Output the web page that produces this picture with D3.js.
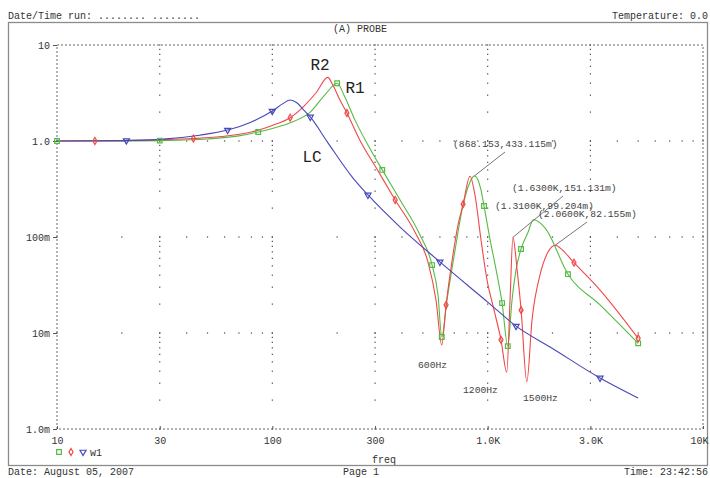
<!DOCTYPE html>
<html>
<head>
<meta charset="utf-8">
<script src="https://cdn.jsdelivr.net/npm/d3@7"></script>
<style>
  body { margin: 0; background: #fff; }
  text { font-family: "Liberation Mono", monospace; }
</style>
</head>
<body>
<svg id="chart" width="710" height="478"></svg>
<script>
// axis ticks
var xTicks = [10, 30, 100, 300, 1000, 3000, 10000];
var xTickLabels = ["10", "30", "100", "300", "1.0K", "3.0K", "10K"];
var yTicks = [10, 1, 0.1, 0.01, 0.001];
var yTickLabels = ["10", "1.0", "100m", "10m", "1.0m"];

// traces [freq, |V|]
var r1Data = [[10, 1.0], [20, 1.0], [30, 1.01], [50, 1.05], [70, 1.13], [86, 1.24], [100, 1.35], [121, 1.55],
  [150, 2.0], [175, 3.0], [200, 4.0], [215, 3.02], [242, 1.65], [278, 0.91], [324, 0.5], [392, 0.243],
  [485, 0.105], [552, 0.051], [588, 0.0249], [612, 0.0091], [647, 0.0218], [706, 0.0735], [760, 0.19],
  [828, 0.374], [868, 0.433], [931, 0.31], [962, 0.21], [1026, 0.0937], [1094, 0.0457], [1167, 0.0205],
  [1240, 0.0073], [1297, 0.0218], [1355, 0.0457], [1429, 0.075], [1540, 0.112], [1630, 0.151],
  [1849, 0.124], [2360, 0.041], [3325, 0.0196], [5000, 0.0078]];
var r2Data = [[10, 1.0], [20, 1.01], [30, 1.03], [43, 1.06], [60, 1.12], [80, 1.24], [100, 1.45], [121, 1.75],
  [140, 2.3], [160, 3.2], [181, 4.6], [191, 3.83], [206, 2.67], [222, 1.96], [255, 1.02], [306, 0.51],
  [372, 0.243], [460, 0.112], [528, 0.055], [576, 0.0218], [612, 0.0075], [641, 0.0196], [684, 0.0575],
  [728, 0.133], [769, 0.22], [828, 0.43], [873, 0.274], [931, 0.0937], [993, 0.0357], [1071, 0.0173],
  [1153, 0.0085], [1227, 0.0039], [1270, 0.0218], [1310, 0.0992], [1370, 0.0457], [1430, 0.0173],
  [1520, 0.0031], [1607, 0.0137], [1750, 0.0402], [1906, 0.0696], [2060, 0.082], [2218, 0.0735],
  [2518, 0.054], [3325, 0.028], [5000, 0.0088]];
var lcData = [[10, 1.0], [20, 1.01], [30, 1.04], [46, 1.15], [62, 1.3], [80, 1.58], [100, 2.05], [112, 2.45],
  [121, 2.67], [130, 2.5], [140, 2.1], [150, 1.78], [180, 0.98], [237, 0.41], [278, 0.274], [392, 0.127],
  [600, 0.055], [1000, 0.021], [1355, 0.0118], [2000, 0.0069], [3325, 0.0034], [5000, 0.0021]];

// trace markers
var r1Markers = [[10, 1.0], [30, 1.01], [86, 1.24], [200, 4.0], [324, 0.5], [552, 0.051], [612, 0.0091],
  [962, 0.21], [1167, 0.0205], [1240, 0.0073], [1429, 0.075], [2360, 0.041], [5000, 0.0078]];
var r2Markers = [[15, 1.0], [43, 1.06], [121, 1.75], [222, 1.96], [372, 0.243], [641, 0.0196], [769, 0.22],
  [1153, 0.0085], [1430, 0.0173], [2518, 0.054], [5000, 0.0088]];
var lcMarkers = [[21, 1.01], [62, 1.3], [100, 2.05], [150, 1.78], [278, 0.274], [600, 0.055], [1355, 0.0118],
  [3325, 0.0034]];

// cursor readouts
var readouts = [
  { f: 868.153, v: 0.433115, text: "(868.153,433.115m)" },
  { f: 1630, v: 0.151131, text: "(1.6300K,151.131m)" },
  { f: 1310, v: 0.099204, text: "(1.3100K,99.204m)" },
  { f: 2060, v: 0.082155, text: "(2.0600K,82.155m)" }
];
var notchLabels = ["600Hz", "1200Hz", "1500Hz"];
var traceNames = ["R2", "R1", "LC"];

var svg = d3.select("#chart");

const xScale = d3.scaleLog().domain([10, 10000]).range([57, 703]);
const yScale = d3.scaleLog().domain([0.001, 10]).range([429, 45]);

const green = "#55bb44";
const red = "#f04848";
const blue = "#4848b8";
const gridColor = "#444";

// outer page frame
svg.append("rect")
  .attr("x", 8.5).attr("y", 22.5)
  .attr("width", 699).attr("height", 443)
  .attr("fill", "none").attr("stroke", "#8c8c8c").attr("stroke-width", 1.3);

// header / footer
var header = svg.append("g").attr("font-size", "10px").attr("fill", "#333");
header.append("text").attr("x", 8).attr("y", 19).text("Date/Time run: ........ ........");
header.append("text").attr("x", 708).attr("y", 19).attr("text-anchor", "end").text("Temperature: 0.0");
header.append("text").attr("x", 333).attr("y", 32).text("(A) PROBE");
header.append("text").attr("x", 8).attr("y", 475).text("Date: August 05, 2007");
header.append("text").attr("x", 343).attr("y", 475).text("Page 1");
header.append("text").attr("x", 708).attr("y", 475).attr("text-anchor", "end").text("Time: 23:42:56");
header.append("text").attr("x", 372).attr("y", 463).text("freq");

// log minor values inside a range
var logSteps = (lo, hi) => {
  var out = [];
  for (var d = Math.log10(lo); d < Math.log10(hi); d++) {
    for (var k = 1; k < 10; k++) out.push(k * Math.pow(10, d));
  }
  out.push(hi);
  return out;
}

// dashed plot border
svg.append("rect")
  .attr("x", xScale(10)).attr("y", yScale(10))
  .attr("width", xScale(10000) - xScale(10)).attr("height", yScale(0.001) - yScale(10))
  .attr("fill", "none").attr("stroke", "#666").attr("stroke-width", 1)
  .attr("stroke-dasharray", "2,2");

// dotted grid
var grid = svg.append("g").attr("fill", gridColor);
xTicks.slice(1, -1).forEach(xv => {
  logSteps(0.001, 10).forEach(yv => {
    grid.append("rect").attr("x", xScale(xv) - 0.6).attr("y", yScale(yv) - 0.6)
      .attr("width", 1.2).attr("height", 1.2);
  });
});
yTicks.slice(1, -1).forEach(yv => {
  logSteps(10, 10000).forEach(xv => {
    grid.append("rect").attr("x", xScale(xv) - 0.6).attr("y", yScale(yv) - 0.6)
      .attr("width", 1.2).attr("height", 1.2);
  });
});

// axes
var leftAxis = d3.axisLeft(yScale).tickValues(yTicks)
  .tickFormat((d, i) => yTickLabels[i]).tickSize(4).tickPadding(3);
var yAxisG = svg.append("g").attr("transform", "translate(" + xScale(10) + ",0)").call(leftAxis);
var bottomAxis = d3.axisBottom(xScale).tickValues(xTicks)
  .tickFormat((d, i) => xTickLabels[i]).tickSize(-3).tickPadding(6);
var xAxisG = svg.append("g").attr("transform", "translate(0," + yScale(0.001) + ")").call(bottomAxis);
[yAxisG, xAxisG].forEach(g => {
  g.select(".domain").remove();
  g.selectAll("line").attr("stroke", "#555");
  g.selectAll("text").attr("font-size", "10px").attr("fill", "#333")
    .attr("font-family", "Liberation Mono, monospace");
});
xAxisG.selectAll("text").attr("dy", "0.9em");
// last label sits flush with the frame edge
xAxisG.selectAll(".tick").filter(d => d === 10000).select("text")
  .attr("text-anchor", "end").attr("x", 5);

// traces
var line = d3.line()
  .x(d => xScale(d[0]))
  .y(d => yScale(d[1]))
  .curve(d3.curveMonotoneX);

var traces = [
  { data: r1Data, markers: r1Markers, color: green, symbol: d3.symbolSquare, size: 22, rot: 0 },
  { data: r2Data, markers: r2Markers, color: red, symbol: d3.symbolDiamond, size: 14, rot: 0 },
  { data: lcData, markers: lcMarkers, color: blue, symbol: d3.symbolTriangle, size: 16, rot: 180 }
];

traces.forEach(t => {
  svg.append("path")
    .datum(t.data)
    .attr("d", line)
    .attr("fill", "none")
    .attr("stroke", t.color)
    .attr("stroke-width", 1.1);
});
traces.forEach(t => {
  svg.selectAll(null)
    .data(t.markers)
    .enter()
    .append("path")
    .attr("d", d3.symbol().type(t.symbol).size(t.size))
    .attr("transform", d => "translate(" + xScale(d[0]) + "," + yScale(d[1]) + ") rotate(" + t.rot + ")")
    .attr("fill", "none")
    .attr("stroke", t.color)
    .attr("stroke-width", 1.2);
});

// legend
var legend = svg.append("g");
traces.forEach((t, i) => {
  legend.append("path")
    .attr("d", d3.symbol().type(t.symbol).size(t.size))
    .attr("transform", "translate(" + (59 + i * 12) + ",452) rotate(" + t.rot + ")")
    .attr("fill", "none").attr("stroke", t.color).attr("stroke-width", 1.2);
});
legend.append("text").attr("x", 90).attr("y", 455.5).attr("font-size", "10px").attr("fill", "#333").text("w1");

// cursor readouts with leader lines
var ann = svg.append("g").attr("font-size", "9.7px").attr("fill", "#444");
var textPos = [[453, 147], [512, 191], [495, 209], [538, 217]];
var leaderEnd = [[505, 152], null, [563, 196], [587, 222]];
readouts.forEach((r, i) => {
  if (leaderEnd[i]) {
    ann.append("line")
      .attr("x1", xScale(r.f)).attr("y1", yScale(r.v))
      .attr("x2", leaderEnd[i][0]).attr("y2", leaderEnd[i][1])
      .attr("stroke", "#666").attr("stroke-width", 0.9);
  }
  ann.append("text").attr("x", textPos[i][0]).attr("y", textPos[i][1]).text(r.text);
});

// notch labels
var notchPos = [[418, 368], [463, 393], [523, 401]];
notchLabels.forEach((s, i) => {
  ann.append("text").attr("x", notchPos[i][0]).attr("y", notchPos[i][1]).text(s);
});

// trace names
var namePos = [[320, 70], [355, 93], [312, 162]];
traceNames.forEach((s, i) => {
  svg.append("text")
    .attr("x", namePos[i][0]).attr("y", namePos[i][1])
    .attr("text-anchor", "middle")
    .attr("font-family", "Liberation Sans, Arial, sans-serif")
    .attr("font-size", "16px")
    .attr("fill", "#222")
    .text(s);
});
</script>
</body>
</html>
